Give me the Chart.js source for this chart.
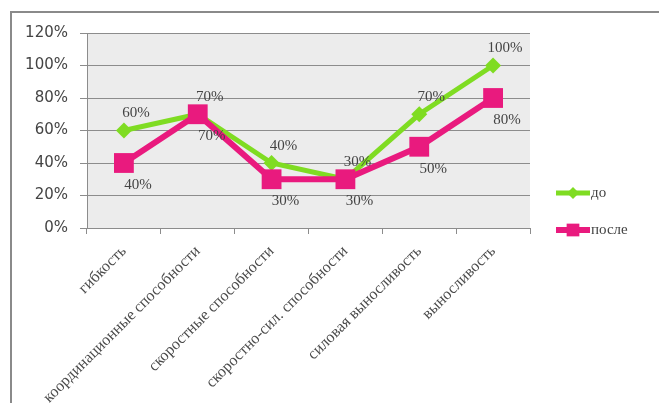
<!DOCTYPE html>
<html>
<head>
<meta charset="utf-8">
<script src="https://cdn.jsdelivr.net/npm/chart.js@4.4.1/dist/chart.umd.min.js"></script>
<style>
html, body { margin: 0; padding: 0; background: #fff; }
</style>
</head>
<body>
<canvas id="lineChart" width="659" height="403"></canvas>
<script>
// данные
const categories = [
    'гибкость',
    'координационные способности',
    'скоростные способности',
    'скоростно-сил. способности',
    'силовая выносливость',
    'выносливость'
];
const seriesNames = ['до', 'после'];
const beforeValues = [60, 70, 40, 30, 70, 100];
const afterValues = [40, 70, 30, 30, 50, 80];
const yTicks = [0, 20, 40, 60, 80, 100, 120];

const green = '#7fdc22';
const pink = '#e91a7e';
const gridColor = '#8c8c8c';
const textColor = '#444';
const serif = '"Liberation Serif", "DejaVu Serif", serif';

// frame + grey plot background
const backgroundPlugin = {
    id: 'background',
    beforeDraw(chart) {
        const c = chart.ctx;
        const a = chart.chartArea;
        c.save();
        c.fillStyle = '#ffffff';
        c.fillRect(0, 0, chart.width, chart.height);
        c.strokeStyle = '#8a8a8a';
        c.lineWidth = 2;
        c.beginPath();
        c.moveTo(11, chart.height);
        c.lineTo(11, 12);
        c.lineTo(chart.width, 12);
        c.stroke();
        c.fillStyle = '#ececec';
        c.fillRect(a.left, a.top, a.right - a.left, a.bottom - a.top);
        c.restore();
    }
};

// value labels next to the points
const valueLabels = {
    id: 'valueLabels',
    afterDatasetsDraw(chart) {
        const c = chart.ctx;
        c.save();
        c.font = '15px ' + serif;
        c.fillStyle = textColor;
        c.textAlign = 'center';
        c.textBaseline = 'middle';
        chart.data.datasets.forEach((ds, i) => {
            const meta = chart.getDatasetMeta(i);
            const dx = ds.label === 'до' ? 12 : 14;
            const dy = ds.label === 'до' ? -17 : 22;
            meta.data.forEach((pt, j) => {
                c.fillText(ds.data[j] + '%', pt.x + dx, pt.y + dy);
            });
        });
        c.restore();
    }
};

// legend: line with marker in the middle
const sideLegend = {
    id: 'sideLegend',
    afterDraw(chart) {
        const c = chart.ctx;
        const x0 = 556, x1 = 590;
        const rows = [
            { y: 193, color: green, style: 'rectRot', r: 6, w: 5 },
            { y: 230, color: pink, style: 'rect', r: 9, w: 6 }
        ];
        c.save();
        rows.forEach((row, i) => {
            c.strokeStyle = row.color;
            c.lineWidth = row.w;
            c.beginPath();
            c.moveTo(x0, row.y);
            c.lineTo(x1, row.y);
            c.stroke();
            c.fillStyle = row.color;
            Chart.helpers.drawPoint(c, { pointStyle: row.style, radius: row.r, borderWidth: 0 }, (x0 + x1) / 2, row.y);
            c.fillStyle = textColor;
            c.font = '15px ' + serif;
            c.textAlign = 'left';
            c.textBaseline = 'middle';
            c.fillText(seriesNames[i], x1 + 1, row.y);
        });
        c.restore();
    }
};

const ctx = document.getElementById('lineChart').getContext('2d');
const lineChart = new Chart(ctx, {
    type: 'line',
    data: {
        labels: categories,
        datasets: [{
            label: seriesNames[0],
            data: beforeValues,
            borderColor: green,
            backgroundColor: green,
            borderWidth: 5,
            tension: 0,
            pointStyle: 'rectRot',
            pointRadius: 8,
            pointBorderWidth: 0,
            order: 1
        }, {
            label: seriesNames[1],
            data: afterValues,
            borderColor: pink,
            backgroundColor: pink,
            borderWidth: 6,
            tension: 0,
            pointStyle: 'rect',
            pointRadius: 14,
            pointBorderWidth: 0,
            order: 0
        }]
    },
    options: {
        responsive: false,
        animation: false,
        layout: {
            padding: { left: 0, right: 129, top: 33, bottom: 0 }
        },
        plugins: {
            legend: { display: false },
            tooltip: { enabled: false }
        },
        scales: {
            x: {
                offset: true,
                afterFit(scale) { scale.height = 175; },
                grid: {
                    offset: true,
                    drawOnChartArea: false,
                    color: gridColor,
                    tickLength: 6
                },
                border: { color: gridColor, width: 1 },
                ticks: {
                    autoSkip: false,
                    minRotation: 45,
                    maxRotation: 45,
                    padding: 8,
                    color: '#4a4a4a',
                    font: { family: serif, size: 16 }
                }
            },
            y: {
                min: 0,
                max: 120,
                afterFit(scale) { scale.width = 87; },
                afterBuildTicks(scale) {
                    scale.ticks = yTicks.map(v => ({ value: v }));
                },
                grid: {
                    color: gridColor,
                    tickLength: 7
                },
                border: { color: gridColor, width: 1 },
                ticks: {
                    padding: 12,
                    color: textColor,
                    font: { family: '"DejaVu Sans", sans-serif', size: 15 },
                    callback: v => v + '%'
                }
            }
        }
    },
    plugins: [backgroundPlugin, valueLabels, sideLegend]
});
</script>
</body>
</html>
